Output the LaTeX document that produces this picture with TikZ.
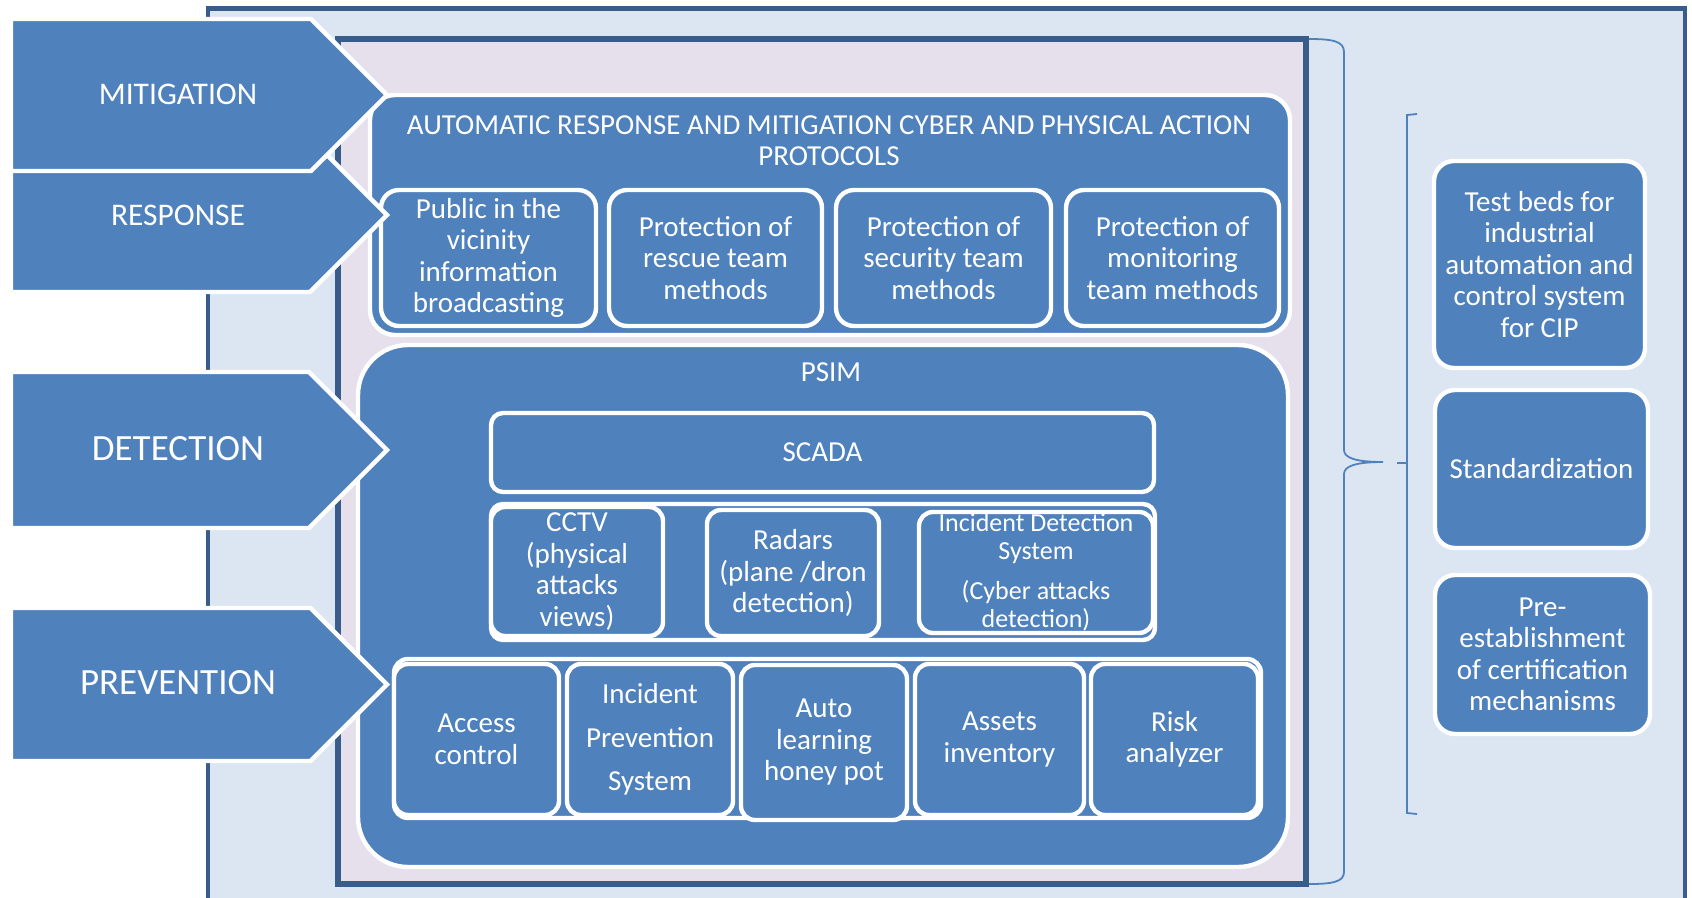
\documentclass[tikz,border=0pt]{standalone}
\usepackage{fontspec}
\setmainfont{Carlito}
\definecolor{accent}{HTML}{4F81BD}
\definecolor{lightbg}{HTML}{DCE6F2}
\definecolor{lav}{HTML}{E5E0EC}
\definecolor{darkb}{HTML}{385D8A}
\begin{document}
\begin{tikzpicture}[x=1pt,y=-1pt,
  bluebox/.style={draw=white, fill=accent, line width=4.4pt, text=white, align=center,
    inner sep=0pt, font=\fontsize{29}{31.5}\selectfont},
  sz/.style 2 args={minimum width=#1, minimum height=#2},
  lbl/.style={text=white, align=center, inner sep=0pt, font=\fontsize{29}{31.5}\selectfont},
  arrowshape/.style={fill=accent, draw=white, line width=4.4pt, line join=miter},
  arrlbl/.style={text=white, inner sep=0pt},
  bracecol/.style={draw=accent, line width=2pt}
]
\useasboundingbox (0,0) rectangle (1692,897);
\fill[white] (0,0) rectangle (1692,897);
\begin{scope}
\clip (0,0) rectangle (1692,897);
\draw[fill=lightbg, draw=darkb, line width=4.5pt] (208,8.4) rectangle (1685,960);
\end{scope}
\draw[fill=lav, draw=darkb, line width=5.5pt] (338,39) rectangle (1306,884);

% big brace
\draw[bracecol, line width=1.8pt] (1309,39) .. controls (1332,39) and (1344,41) .. (1344,52) -- (1344,450)
  .. controls (1344,458) and (1356,462) .. (1383,462)
  .. controls (1356,462) and (1344,466) .. (1344,474) -- (1344,872)
  .. controls (1344,882) and (1332,884) .. (1309,884);
% square bracket
\draw[bracecol, line width=1.8pt] (1417,114) -- (1407,115) -- (1407,813) -- (1417,814);
\draw[bracecol, line width=1.8pt] (1397,463) -- (1407,463);

% automatic response box
\node[bluebox, rounded corners=25pt, sz={920pt}{240pt}] (arbox) at (830,215) {};
\node[lbl] (artitle) at (829,140.5) {AUTOMATIC RESPONSE AND MITIGATION CYBER AND PHYSICAL ACTION\\PROTOCOLS};
\node[bluebox, rounded corners=18pt, sz={215pt}{136pt}] (pub) at (488.5,258) {Public in the\\vicinity\\information\\broadcasting};
\node[bluebox, rounded corners=18pt, sz={213pt}{136pt}] (rescue) at (715.5,258) {Protection of\\rescue team\\methods};
\node[bluebox, rounded corners=18pt, sz={215pt}{136pt}] (security) at (943.5,258) {Protection of\\security team\\methods};
\node[bluebox, rounded corners=18pt, sz={213pt}{136pt}] (monitor) at (1172.5,258) {Protection of\\monitoring\\team methods};

% PSIM
\node[bluebox, rounded corners=50pt, sz={930pt}{522pt}] (psim) at (823,606) {};
\node[lbl] (psimlbl) at (831,372) {PSIM};
\node[bluebox, rounded corners=12pt, sz={663pt}{79pt}] (scada) at (822.5,452.5) {SCADA};
\node[bluebox, rounded corners=12pt, sz={664pt}{136pt}] (detgroup) at (823,572) {};
\node[bluebox, rounded corners=14pt, sz={172pt}{129pt}] (cctv) at (577,571.5) {CCTV\\(physical\\attacks\\views)};
\node[bluebox, rounded corners=14pt, sz={172pt}{126pt}] (radars) at (793,573) {Radars\\(plane /dron\\detection)};
\node[bluebox, rounded corners=14pt, sz={234pt}{121pt}, font=\fontsize{26}{28}\selectfont] (ids) at (1036,572.5) {Incident Detection\\System\\[12pt](Cyber attacks\\detection)};

\node[bluebox, rounded corners=14pt, sz={867pt}{159pt}] (prevgroup) at (827.5,738.5) {};
\node[bluebox, rounded corners=14pt, sz={165pt}{151pt}] (access) at (476.5,739.5) {Access\\control};
\node[bluebox, rounded corners=14pt, sz={166pt}{151pt}] (ips) at (650,739.5) {Incident\\[12pt]Prevention\\[12pt]System};
\node[bluebox, rounded corners=14pt, sz={166pt}{155pt}] (auto) at (824,742.5) {Auto\\learning\\honey pot};
\node[bluebox, rounded corners=14pt, sz={169pt}{151pt}] (assets) at (999.5,739.5) {Assets\\inventory};
\node[bluebox, rounded corners=14pt, sz={167pt}{151pt}] (risk) at (1174.5,739.5) {Risk\\analyzer};

% right boxes
\node[bluebox, rounded corners=20pt, sz={211pt}{207pt}] (testbeds) at (1539.5,264.5) {Test beds for\\industrial\\automation and\\control system\\for CIP};
\node[bluebox, rounded corners=20pt, sz={213pt}{158pt}] (std) at (1541.5,469) {Standardization};
\node[bluebox, rounded corners=20pt, sz={215pt}{159pt}] (cert) at (1542.5,654.5) {Pre-\\establishment\\of certification\\mechanisms};

% left arrows
\draw[arrowshape] (11,138) -- (310,138) -- (387,215) -- (310,292) -- (11,292) -- cycle;
\draw[arrowshape] (11,19) -- (311,19) -- (387,95) -- (311,171) -- (11,171) -- cycle;
\draw[arrowshape] (11,372) -- (309,372) -- (387,450) -- (309,528) -- (11,528) -- cycle;
\draw[arrowshape] (11,608) -- (310.5,608) -- (387,684.5) -- (310.5,761) -- (11,761) -- cycle;
\node[arrlbl, font=\fontsize{31.5}{34}\selectfont] (mitlbl) at (178,94) {MITIGATION};
\node[arrlbl, font=\fontsize{31.5}{34}\selectfont] (resplbl) at (178,215) {RESPONSE};
\node[arrlbl, font=\fontsize{37}{40}\selectfont] (detlbl) at (178,449) {DETECTION};
\node[arrlbl, font=\fontsize{37}{40}\selectfont] (prevlbl) at (178,683) {PREVENTION};
\end{tikzpicture}
\end{document}
